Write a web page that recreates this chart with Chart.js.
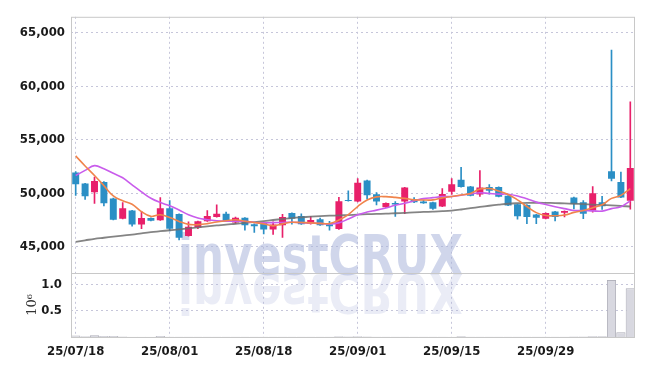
<!DOCTYPE html>
<html>
<head>
<meta charset="utf-8">
<script src="https://cdn.jsdelivr.net/npm/chart.js@4.4.1/dist/chart.umd.min.js"></script>
<style>
html, body { margin: 0; padding: 0; background: #fff; }
#wrap { width: 645px; height: 366px; }
</style>
</head>
<body>
<div id="wrap"><canvas id="chart" width="645" height="366"></canvas></div>
<script>
// --- data ---
const dates = [
  '25/07/18','25/07/21','25/07/22','25/07/23','25/07/24','25/07/25','25/07/28','25/07/29','25/07/30','25/07/31',
  '25/08/01','25/08/04','25/08/05','25/08/06','25/08/07','25/08/08','25/08/11','25/08/12','25/08/13','25/08/14',
  '25/08/18','25/08/19','25/08/20','25/08/21','25/08/22','25/08/25','25/08/26','25/08/27','25/08/28','25/08/29',
  '25/09/01','25/09/02','25/09/03','25/09/04','25/09/05','25/09/08','25/09/09','25/09/10','25/09/11','25/09/12',
  '25/09/15','25/09/16','25/09/17','25/09/18','25/09/19','25/09/22','25/09/23','25/09/24','25/09/25','25/09/26',
  '25/09/29','25/09/30','25/10/01','25/10/02','25/10/10','25/10/13','25/10/14','25/10/15','25/10/16','25/10/17'
];
const opens = [
  51950,50920,50120,51070,49540,47640,48410,47100,47710,47500,
  48620,48070,46030,46820,47400,47800,48100,47280,47730,47130,
  47280,46630,47030,48170,47890,47160,47590,47130,46670,49380,
  49240,51220,49930,48720,49110,49260,49480,49260,49170,48780,
  50160,51280,50640,49910,50610,50610,49790,48990,48930,48040,
  47640,48320,48190,49630,49170,48410,49170,52080,51070,49330
];
const highs = [
  52050,50950,51530,51100,49560,49150,48430,48320,47730,49610,
  49330,48090,47340,47420,48410,48930,48260,47800,47750,47150,
  47300,47340,48050,48190,48100,47860,47710,47400,49630,50250,
  51380,51240,50090,49130,49240,50570,49610,49360,49190,50460,
  51380,52450,50660,52140,50830,50630,49810,49010,48950,48060,
  48190,48340,48370,49650,49330,50640,49720,63390,51990,58560
];
const lows = [
  49820,49450,49080,48830,47530,47620,46940,46700,47440,47480,
  46510,45660,46010,46700,47380,47780,47380,47200,46580,46350,
  46210,46170,45900,47130,47110,47140,47020,46580,46650,49270,
  49220,49480,48930,48700,47860,48100,49150,49060,48500,48760,
  49910,50590,49770,49720,49940,49680,48850,47590,47180,47180,
  47620,47430,47800,48560,47640,48260,48500,51170,49610,48530
];
const closes = [
  50850,49750,51170,49080,47550,48620,47100,47710,47460,48620,
  46700,45870,46880,47400,47890,48100,47400,47730,47030,46940,
  46630,47090,47800,47640,47130,47520,47040,46940,49270,49290,
  51010,49840,49240,49110,48960,50550,49170,49080,48560,49940,
  50850,50610,49790,50550,50250,49700,48870,47860,47800,47730,
  48170,47800,48350,49020,48100,50030,48810,51380,49630,52390
];
const volumes = [
  30000,15000,35000,20000,20000,8000,6000,5000,5000,20000,
  4000,4000,4000,4000,4000,4000,4000,4000,4000,4000,
  4000,4000,4000,4000,4000,4000,4000,4000,15000,8000,
  15000,8000,4000,4000,4000,4000,4000,4000,4000,4000,
  5000,12000,4000,4000,4000,4000,4000,4000,4000,4000,
  4000,4000,4000,8000,10000,12000,12000,1090000,90000,930000
];
const ma5 = [
  53510,52570,51680,50730,49770,49310,48990,48300,47860,48010,
  47750,47390,47110,47090,47180,47340,47450,47540,47410,47290,
  47160,46970,47160,47310,47280,47250,47200,47200,47520,48030,
  48780,49390,49680,49700,49630,49540,49400,49390,49400,49590,
  49720,49860,50000,50410,50460,50230,49910,49400,48780,48210,
  47940,47920,47980,48230,48410,48670,48940,49540,49820,50460
];
const ma20 = [
  51680,52160,52600,52300,51880,51470,50800,50150,49550,49150,
  48850,48450,48000,47700,47550,47450,47400,47400,47400,47290,
  47250,47270,47290,47310,47270,47230,47200,47140,47250,47610,
  48010,48260,48440,48650,48900,49080,49310,49520,49610,49700,
  49720,49840,49950,50060,50000,49940,49930,49770,49500,49190,
  48960,48760,48580,48410,48410,48370,48350,48580,48760,49310
];
const ma60 = [
  45480,45620,45760,45860,45960,46060,46150,46270,46380,46470,
  46560,46650,46740,46840,46930,47010,47080,47170,47250,47330,
  47420,47520,47610,47700,47770,47830,47880,47920,47950,47980,
  48020,48060,48090,48110,48150,48190,48240,48270,48300,48340,
  48400,48500,48620,48740,48850,48950,49040,49090,49120,49130,
  49120,49100,49070,49040,49000,48960,48920,48880,48830,48780
];
const tickDates = ['25/07/18','25/08/01','25/08/18','25/09/01','25/09/15','25/09/29'];
const priceTicks = [45000, 50000, 55000, 60000, 65000];
const volTicks = [500000, 1000000];

const UP = '#e8206a';
const DOWN = '#2b8fc5';
const candleColors = opens.map((o, i) => closes[i] >= o ? UP : DOWN);
const tickFont = { family: "'DejaVu Sans Condensed', 'Liberation Sans Narrow', sans-serif", size: 13, weight: 'bold' };
const gridColor = '#c6c6da';

// watermark behind the candles
const watermarkPlugin = {
  id: 'watermark',
  beforeDatasetsDraw(chart) {
    const ctx = chart.ctx;
    const area = chart.chartArea;
    const base = chart.scales.y.bottom + 1;
    ctx.save();
    ctx.beginPath();
    ctx.rect(area.left, area.top, area.right - area.left, area.bottom - area.top);
    ctx.clip();
    ctx.font = 'bold 56px "DejaVu Sans"';
    const w = ctx.measureText('investCRUX').width;
    ctx.translate(178, base);
    ctx.scale(285 / w, 1);
    ctx.fillStyle = 'rgba(170,180,218,0.55)';
    ctx.fillText('investCRUX', 0, 0);
    ctx.scale(1, -1);
    ctx.fillStyle = 'rgba(170,180,218,0.25)';
    ctx.fillText('investCRUX', 0, 0);
    ctx.restore();
  }
};

// frame round both panels
const framePlugin = {
  id: 'frame',
  afterDraw(chart) {
    const ctx = chart.ctx;
    const a = chart.chartArea;
    const sep = chart.scales.y.bottom;
    ctx.save();
    ctx.strokeStyle = '#c8c8c8';
    ctx.lineWidth = 1;
    ctx.strokeRect(a.left + 0.5, a.top + 0.5, a.right - a.left - 1, a.bottom - a.top);
    ctx.beginPath();
    ctx.moveTo(a.left, Math.round(sep) + 0.5);
    ctx.lineTo(a.right, Math.round(sep) + 0.5);
    ctx.stroke();
    ctx.restore();
  }
};

new Chart(document.getElementById('chart'), {
  type: 'bar',
  data: {
    labels: dates,
    datasets: [
      { type: 'line', label: 'MA5', data: ma5, borderColor: '#f0844c', borderWidth: 1.6, pointRadius: 0, tension: 0.4, yAxisID: 'y', order: 0 },
      { type: 'line', label: 'MA20', data: ma20, borderColor: '#c95cec', borderWidth: 1.6, pointRadius: 0, tension: 0.4, yAxisID: 'y', order: 0 },
      { type: 'line', label: 'MA60', data: ma60, borderColor: 'rgba(110,110,110,0.85)', borderWidth: 1.8, pointRadius: 0, tension: 0.4, yAxisID: 'y', order: 0 },
      {
        label: 'Body', data: opens.map((o, i) => [o, closes[i]]),
        backgroundColor: candleColors, yAxisID: 'y', grouped: false,
        barPercentage: 0.74, categoryPercentage: 1, minBarLength: 1, order: 1
      },
      {
        label: 'Wick', data: lows.map((l, i) => [l, highs[i]]),
        backgroundColor: candleColors, yAxisID: 'y', grouped: false,
        barThickness: 1, order: 2
      },
      {
        label: 'Volume', data: volumes, yAxisID: 'yv', grouped: false,
        backgroundColor: '#d8d8e0', borderColor: '#aeaeb8', borderWidth: 1,
        barPercentage: 0.98, categoryPercentage: 1, order: 3
      }
    ]
  },
  options: {
    responsive: false,
    animation: false,
    layout: { padding: { left: 0, right: 10, top: 10, bottom: 0 } },
    plugins: { legend: { display: false }, tooltip: { enabled: false } },
    scales: {
      x: {
        type: 'category',
        offset: true,
        afterBuildTicks: s => { s.ticks = tickDates.map(d => ({ value: dates.indexOf(d) })); },
        afterFit: s => { s.height = 29; },
        ticks: {
          autoSkip: false, maxRotation: 0, padding: 7, color: '#1a1a1a', font: tickFont,
          callback: function (v) { return dates[v]; }
        },
        grid: { offset: false, color: gridColor, drawTicks: false },
        border: { display: false, dash: [2, 3] }
      },
      yv: {
        position: 'left', stack: 'panels', stackWeight: 1,
        min: 0, max: 1222000,
        afterBuildTicks: s => { s.ticks = volTicks.map(v => ({ value: v })); },
        afterFit: s => { s.width = 71; },
        ticks: {
          padding: 9, color: '#1a1a1a', font: tickFont,
          callback: v => (v / 1e6).toFixed(1)
        },
        title: {
          display: true, text: '10⁶', color: '#333',
          font: { family: "'DejaVu Serif', serif", size: 13 },
          padding: { top: 25, bottom: 0 }
        },
        grid: { color: gridColor, drawTicks: false },
        border: { display: false, dash: [2, 3] }
      },
      y: {
        position: 'left', stack: 'panels', stackWeight: 4,
        min: 42570, max: 66510,
        afterBuildTicks: s => { s.ticks = priceTicks.map(v => ({ value: v })); },
        afterFit: s => { s.width = 71; },
        ticks: {
          padding: 6, color: '#1a1a1a', font: tickFont,
          callback: v => v.toLocaleString('en-US')
        },
        grid: { color: gridColor, drawTicks: false },
        border: { display: false, dash: [2, 3] }
      }
    }
  },
  plugins: [watermarkPlugin, framePlugin]
});
</script>
</body>
</html>
